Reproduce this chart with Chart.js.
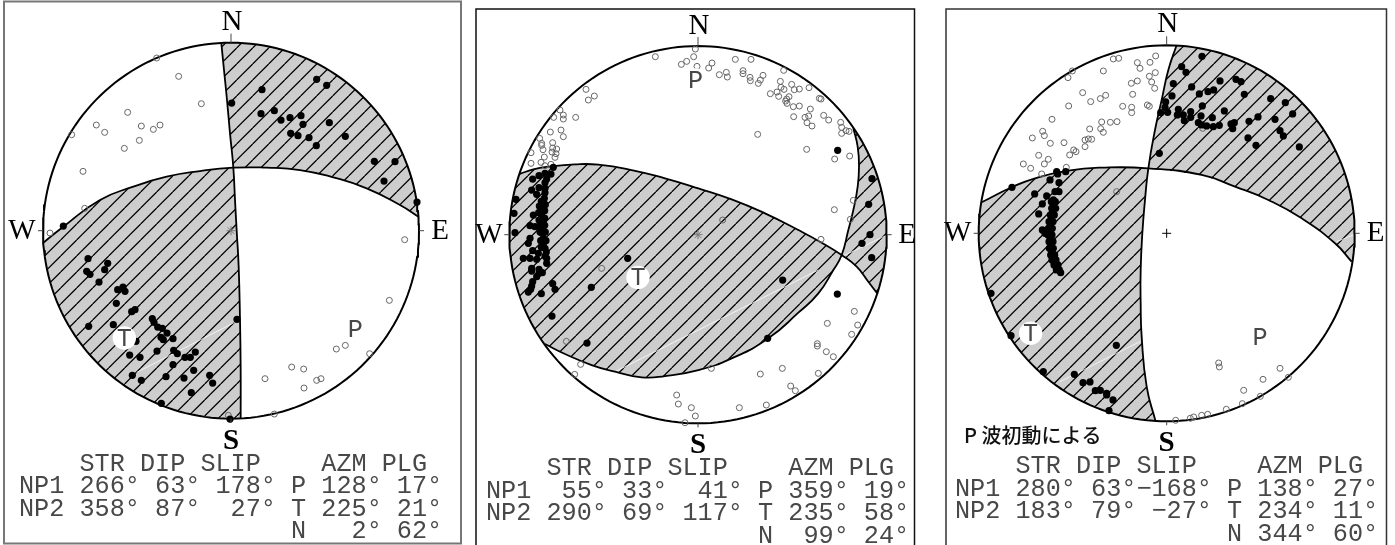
<!DOCTYPE html>
<html>
<head>
<meta charset="utf-8">
<title>Focal mechanisms</title>
<script src="https://cdn.jsdelivr.net/npm/chart.js@4"></script>
<style>
	html, body { margin: 0; padding: 0; background: #fff; }
	canvas { position: absolute; top: 0; }
</style>
</head>
<body>
<canvas id="panel1" width="465" height="545" style="left:0"></canvas>
<canvas id="panel2" width="465" height="545" style="left:465px"></canvas>
<canvas id="panel3" width="460" height="545" style="left:935px"></canvas>
<script>
"use strict";

// All values are [east, north] on the net.
// The edge of the net is about 564 units from its centre.

// Left mechanism
var p1Table = [
	"    STR DIP SLIP    AZM PLG",
	"NP1 266° 63° 178° P 128° 17°",
	"NP2 358° 87°  27° T 225° 21°",
	"                  N   2° 62°"
];
var p1PAxis = [373, -295];
var p1TAxis = [-320, -322];
var p1PlaneAWest = [[-563,-36],[-503,12],[-393,92],[-293,132],[-193,162],[-93,179],[7,189]];
var p1PlaneAEast = [[7,189],[107,189],[207,182],[307,160],[407,127],[507,77],[562,42]];
var p1PlaneBNorth = [[-29,562],[-20,472],[-12,392],[-3,292],[7,189]];
var p1PlaneBSouth = [[7,189],[12,92],[17,0],[23,-108],[27,-267],[29,-417],[29,-564]];
var p1Scratch = [[-283,-425],[17,-272]];
var p1Down = [[-223,518],[-157,463],[-89,381],[-310,355],[-404,317],[-379,295],[-269,314],[-233,304],[-213,317],[-275,271],[-320,247],[-478,288],[-444,178],[-439,67],[-543,-7],[521,-27],
	[475,-209],[343,-344],[316,-355],[416,-369],[182,-409],[218,-415],[102,-444],[270,-444],[257,-449],[219,-472],[130,-550],[-8,-554]];
var p1Up = [[257,454],[287,436],[93,423],[2,383],[90,351],[130,360],[150,332],[177,339],[210,345],[216,319],[295,324],[179,292],[201,285],[234,279],[256,255],[343,283],[430,208],[492,207],[459,149],[558,86],[-503,14],[-429,-84],[-370,-98],
	[-423,-131],[-433,-122],[-379,-117],[-396,-154],[-340,-177],[-324,-169],[-318,-182],[-344,-218],[-288,-237],[-298,-243],[-353,-282],[-427,-287],[-236,-264],[-231,-275],[-220,-289],[-206,-293],[-192,-307],[-210,-320],[-203,-327],[-174,-324],[-285,-332],[-222,-361],[-172,-359],[-161,-369],[-304,-373],[-273,-380],[-138,-380],[-122,-380],[-107,-364],[-174,-402],[-112,-419],[-296,-434],[-269,-449],[-195,-438],[-141,-442],[-64,-434],[-55,-457],[-119,-486],[-209,-518],[-3,-565],[18,-266]];

// Middle mechanism
var p2Table = [
	"    STR DIP SLIP    AZM PLG",
	"NP1  55° 33°  41° P 359° 19°",
	"NP2 290° 69° 117° T 235° 58°",
	"                  N  99° 24°"
];
var p2PAxis = [-7, 464];
var p2TAxis = [-180, -128];
var p2PlaneAWest = [[-536,182],[-494,196],[-449,204],[-369,211],[-299,210],[-199,194],[-99,169],[1,139],[101,106],[201,64],[301,14],[371,-24],[431,-61]];
var p2PlaneAEast = [[431,-61],[476,-96],[511,-141],[539,-178]];
var p2PlaneBNorth = [[466,319],[479,264],[483,204],[479,144],[466,74],[451,14],[431,-61]];
var p2PlaneBSouth = [[431,-61],[406,-106],[361,-176],[301,-234],[211,-311],[101,-371],[1,-406],[-99,-424],[-169,-428],[-249,-411],[-319,-391],[-399,-358],[-459,-328]];
var p2Scratch = [[-249,-411],[361,-106],[null,null],[431,-66],[561,-4]];
var p2Down = [[-128,534],[-8,557],[-13,534],[-34,520],[-50,511],[-3,505],[32,500],[42,515],[112,526],[159,526],[64,480],[85,487],[88,473],[135,492],[135,483],[156,472],[157,462],[181,454],[187,464],[195,478],[257,493],[247,460],[249,442],[258,436],[281,451],[289,435],[304,437],[333,441],[364,409],[369,407],[217,423],[237,428],[242,415],[266,407],[273,414],[263,401],[267,394],[286,384],[304,386],[337,377],[332,356],[321,352],[287,354],[327,336],[342,326],[377,358],[392,344],[428,337],[431,322],[444,312],[453,310],[431,304],[179,301],[326,256],[410,227],[455,236],[466,103],[409,75],[457,46],[74,44],[369,-14],[-289,-101],
	[-336,436],[-311,416],[-329,404],[-414,374],[-404,359],[-433,352],[-404,347],[-367,352],[-443,308],[-411,314],[-404,294],[-475,289],[-469,274],[-469,268],[-465,255],[-436,276],[-436,260],[-424,257],[-438,248],[-426,243],[-429,232],[-461,233],[-501,246],[-471,217],[-501,214],[-459,207],[-441,211],
	[469,-230],[388,-266],[479,-271],[461,-299],[358,-327],[358,-334],[385,-351],[406,-366],[253,-401],[187,-418],[361,-416],[278,-454],[292,-468],[205,-511],[124,-519],[40,-401],[-64,-481],[-59,-508],[-20,-519],[-8,-544],[-39,-564],[-395,-320],[-352,-389],[-370,-419]];
var p2Up = [[419,253],[522,168],[512,91],[516,0],[492,-26],[521,-69],[-211,-71],
	[-434,202],[-441,182],[-459,184],[-477,177],[-496,167],[-454,167],[-459,156],[-477,141],[-499,134],[-459,139],[-484,121],[-459,126],[-461,109],[-464,94],[-469,79],[-471,64],[-494,59],[-467,49],[-477,44],[-471,34],[-504,27],[-489,24],[-467,19],[-467,4],[-504,-11],[-464,-11],[-509,-26],[-464,-31],[-496,-48],[-459,-41],[-479,-56],[-459,-64],[-524,-71],[-504,-71],[-484,-74],[-454,-71],[-454,-86],[-499,-101],[-477,-104],[-546,106],[-552,64],[-549,6],
	[-465,102],[-467,86],[-469,72],[-469,56],[-465,36],[-466,12],[-464,-21],
	[-470,100],[-458,90],[-476,86],[-460,72],[-478,66],[-460,50],[-474,28],[-460,28],[-474,8],[-458,8],[-472,-18],[-456,-18],[-470,-38],[-455,-52],
	[-499,-109],[-467,-114],[-477,-116],[-484,-126],[-496,-141],[-499,-154],[-502,-164],[-509,-172],[-470,-177],[-436,-147],[-429,-164],[-320,-158],[-438,-244],[-333,-325],[209,-311],[254,-136],[418,-178]];

// Right mechanism
var p3Table = [
	"    STR DIP SLIP    AZM PLG",
	"NP1 280° 63°−168° P 138° 27°",
	"NP2 183° 79° −27° T 234° 11°",
	"                  N 344° 60°"
];
var p3Note = "P 波初動による";
var p3PAxis = [280, -313];
var p3TAxis = [-408, -300];
var p3PlaneAWest = [[-555,93],[-465,138],[-395,165],[-295,188],[-195,197],[-55,195]];
var p3PlaneAEast = [[-55,195],[105,175],[205,140],[305,100],[405,45],[505,-30],[555,-85]];
var p3PlaneBNorth = [[30,565],[5,490],[-15,400],[-35,310],[-55,195]];
var p3PlaneBSouth = [[-55,195],[-65,100],[-73,0],[-78,-110],[-78,-210],[-75,-310],[-60,-460],[-33,-565]];
var p3Scratch = [[-320,-445],[-80,-325],[null,null],[510,-25],[560,-5]];
var p3Down = [[-160,523],[-144,525],[-88,512],[-80,495],[-50,513],[-33,532],[-34,482],[-52,471],[-45,454],[-36,435],[-88,457],[-106,450],[-190,487],[-283,487],[-296,467],[-102,417],[-252,422],[-183,414],[-199,404],[-228,395],[-294,382],[-132,381],[-105,378],[-105,362],[-58,385],[-52,381],[-344,342],[-195,334],[-169,333],[-149,335],[-198,314],[-231,313],[-190,303],[-372,306],[-367,293],[-403,286],[-349,270],[-308,272],[-245,280],[-235,283],[-225,282],[-245,260],[-279,250],[-272,245],[-291,235],[-384,234],[-355,222],[-367,208],[-430,208],[-408,195],[-301,198],[-375,178],[-150,125],[108,315],
	[156,-389],[158,-401],[340,-405],[289,-438],[365,-432],[231,-471],[281,-489],[227,-511],[179,-528],[123,-543],[105,-546],[81,-551],[71,-555],[27,-561]];
var p3Up = [[106,531],[45,500],[58,483],[20,449],[75,439],[160,457],[208,462],[223,455],[98,418],[124,425],[141,430],[16,412],[233,417],[312,404],[356,392],[-3,394],[107,382],[-5,378],[-18,362],[3,363],[35,372],[32,355],[50,355],[53,338],[72,365],[72,348],[173,367],[103,352],[137,347],[378,358],[274,349],[325,342],[247,336],[95,332],[105,325],[120,322],[140,320],[158,324],[193,328],[203,332],[198,314],[340,308],[350,292],[244,286],[268,264],[398,259],[-22,240],
	[-330,185],[-327,178],[-303,185],[-350,160],[-323,152],[-464,138],[-396,118],[-335,125],[-323,125],[-360,112],[-373,88],[-384,58],
	[-340,100],[-342,90],[-339,80],[-343,60],[-345,50],[-347,40],[-348,30],[-350,20],[-373,10],[-348,10],[-365,0],[-350,-10],[-347,-20],[-348,-30],[-347,-40],[-345,-50],[-343,-60],[-342,-70],[-339,-78],[-335,-85],[-333,-92],[-330,-100],[-325,-108],[-318,-118],
	[-346,95],[-334,95],[-345,75],[-333,75],[-349,55],[-337,55],[-353,35],[-341,35],[-355,15],[-343,15],[-356,-5],[-344,-5],[-353,-25],[-341,-25],[-352,-45],[-340,-45],[-348,-65],[-336,-65],[-344,-80],[-332,-80],[-338,-95],[-326,-95],[-331,-110],[-322,-110],
	[-527,-180],[-467,-307],[-151,-336],[-370,-415],[-277,-423],[-251,-448],[-230,-446],[-214,-472],[-199,-471],[-180,-480],[-180,-485],[-161,-500],[-173,-532]];

var UNITS_PER_PX = 3;
var MONO_FONT = '25.2px "Liberation Mono"';
var TEXT_COLOR = '#484848';

function ToXY(list) {
	return list.map(function (p) {
		return { x: p[0], y: p[1] };
	});
}

// Points along the rim of the net, the short way round from one plane end to another
function RimBetween(from, to, radius) {
	var a = Math.atan2(from[1], from[0]);
	var b = Math.atan2(to[1], to[0]);
	var diff = b - a;
	if (diff > Math.PI) diff -= 2 * Math.PI;
	if (diff < -Math.PI) diff += 2 * Math.PI;
	var steps = Math.ceil(Math.abs(diff) / (2 * Math.PI / 180));
	var rim = [];
	for (var i = 1; i < steps; i++) {
		var t = a + diff * i / steps;
		rim.push([radius * Math.cos(t), radius * Math.sin(t)]);
	}
	return rim;
}

function RimCircle(radius) {
	var rim = [];
	for (var deg = 0; deg <= 360; deg += 2) {
		rim.push([radius * Math.cos(deg * Math.PI / 180), radius * Math.sin(deg * Math.PI / 180)]);
	}
	return rim;
}

function HatchPattern(offset) {
	var size = 16;
	var tile = document.createElement('canvas');
	tile.width = size;
	tile.height = size;
	var c = tile.getContext('2d');
	c.fillStyle = '#cdcdcd';
	c.fillRect(0, 0, size, size);
	c.strokeStyle = '#000';
	c.lineWidth = 1.3;
	c.beginPath();
	for (var k = -size; k <= size; k += size) {
		c.moveTo(k + offset - size, size);
		c.lineTo(k + offset, 0);
	}
	c.stroke();
	return document.getElementById('panel1').getContext('2d').createPattern(tile, 'repeat');
}

var netMarksPlugin = {
	id: 'netMarks',
	afterDatasetsDraw: function (chart, args, opts) {
		var ctx = chart.ctx;
		var cx = chart.scales.x.getPixelForValue(0);
		var cy = chart.scales.y.getPixelForValue(0);
		var r = opts.radius / UNITS_PER_PX;
		ctx.save();

		// frame
		ctx.strokeStyle = opts.frameColor;
		ctx.lineWidth = opts.frameWidth;
		ctx.beginPath();
		ctx.moveTo(opts.frame[0], opts.frame[3]);
		ctx.lineTo(opts.frame[0], opts.frame[1]);
		ctx.lineTo(opts.frame[2], opts.frame[1]);
		ctx.lineTo(opts.frame[2], opts.frame[3]);
		if (opts.frameClosed) ctx.closePath();
		ctx.stroke();

		// compass ticks
		ctx.strokeStyle = '#444';
		ctx.lineWidth = 1;
		ctx.beginPath();
		ctx.moveTo(cx, cy - r); ctx.lineTo(cx, cy - r - 9);
		ctx.moveTo(cx, cy + r); ctx.lineTo(cx, cy + r + 4);
		ctx.moveTo(cx - r, cy); ctx.lineTo(cx - r - 5, cy);
		ctx.moveTo(cx + r, cy); ctx.lineTo(cx + r + 5, cy);
		ctx.stroke();

		// compass letters
		ctx.fillStyle = '#000';
		ctx.textAlign = 'center';
		ctx.textBaseline = 'alphabetic';
		ctx.font = '29px "Liberation Serif"';
		ctx.fillText('N', cx + 1, cy - 201);
		ctx.fillText('W', cx - 209, cy + 8);
		ctx.fillText('E', cx + 209, cy + 8);
		ctx.font = 'bold 29px "Liberation Serif"';
		ctx.fillText('S', cx, cy + 218);

		// P and T labels
		ctx.fillStyle = TEXT_COLOR;
		ctx.font = MONO_FONT;
		ctx.textBaseline = 'middle';
		ctx.fillText('P', chart.scales.x.getPixelForValue(opts.pAxis[0]), chart.scales.y.getPixelForValue(opts.pAxis[1]) + 1);
		ctx.fillText('T', chart.scales.x.getPixelForValue(opts.tAxis[0]), chart.scales.y.getPixelForValue(opts.tAxis[1]) + 1);

		// solution table
		ctx.textAlign = 'left';
		ctx.textBaseline = 'alphabetic';
		opts.table.forEach(function (line, i) {
			ctx.fillText(line, opts.tableX, opts.tableY + i * 22.5);
		});

		if (opts.note) {
			ctx.fillStyle = '#111';
			ctx.font = '500 20px "Noto Sans CJK JP"';
			ctx.textBaseline = 'middle';
			ctx.fillText(opts.note, opts.noteX, opts.noteY);
		}
		ctx.restore();
	}
};

function DrawPanel(canvasId, panel) {
	var canvas = document.getElementById(canvasId);
	var hatch = HatchPattern(panel.hatchOffset);
	var planeA = panel.aWest.concat(panel.aEast.slice(1));
	var planeB = panel.bNorth.concat(panel.bSouth.slice(1));

	// Two shaded quadrants, each closed along the rim
	var quadrants = panel.quadrants.map(function (parts) {
		var first = parts[0][0];
		var tail = parts[1];
		var last = tail[tail.length - 1];
		return parts[0].concat(tail.slice(1), RimBetween(last, first, panel.radius));
	});

	function Dots(list, style) {
		return Object.assign({ data: ToXY(list), showLine: false }, style);
	}
	function Line(list, width, color, tension) {
		return { data: ToXY(list), showLine: true, pointRadius: 0, borderWidth: width, borderColor: color, tension: tension, fill: false, spanGaps: false };
	}
	function Area(list) {
		return { data: ToXY(list), showLine: true, pointRadius: 0, borderWidth: 1, borderColor: 'rgba(0,0,0,0)', backgroundColor: hatch, fill: 'shape', tension: 0 };
	}

	// first dataset ends up on top
	var datasets = [
		Dots([panel.pAxis, panel.tAxis], { pointRadius: 11.7, pointBorderWidth: 0, pointBackgroundColor: '#fff' }),
		Dots(panel.up, { pointRadius: 3.6, pointBorderWidth: 0, pointBackgroundColor: '#000' }),
		Dots(panel.down, { pointRadius: 3, pointBorderWidth: 1, pointBorderColor: '#666', pointBackgroundColor: 'rgba(0,0,0,0)' }),
		Dots([[0, 0]], { pointStyle: panel.centreStyle, pointRadius: 4.5, pointBorderWidth: 1, pointBorderColor: panel.centreColor }),
		Line(RimCircle(panel.radius), 2, '#000', 0),
		Line(planeA, 1.8, '#000', 0.5),
		Line(planeB, 1.8, '#000', 0.5),
		Line(panel.scratch, 1, 'rgba(255,255,255,0.75)', 0),
		Area(quadrants[0]),
		Area(quadrants[1])
	];

	new Chart(canvas, {
		type: 'scatter',
		data: { datasets: datasets },
		plugins: [netMarksPlugin],
		options: {
			responsive: false,
			animation: false,
			devicePixelRatio: 1,
			layout: { padding: 0, autoPadding: false },
			scales: {
				x: { type: 'linear', display: false, min: -panel.cx * UNITS_PER_PX, max: (canvas.width - panel.cx) * UNITS_PER_PX },
				y: { type: 'linear', display: false, min: -(canvas.height - panel.cy) * UNITS_PER_PX, max: panel.cy * UNITS_PER_PX }
			},
			plugins: {
				legend: { display: false },
				tooltip: { enabled: false },
				netMarks: {
					radius: panel.radius,
					pAxis: panel.pAxis,
					tAxis: panel.tAxis,
					table: panel.table,
					tableX: panel.tableX,
					tableY: panel.tableY,
					frame: panel.frame,
					frameColor: panel.frameColor,
					frameWidth: panel.frameWidth,
					frameClosed: panel.frameClosed,
					note: panel.note,
					noteX: panel.noteX,
					noteY: panel.noteY
				}
			}
		}
	});
}

DrawPanel('panel1', {
	cx: 231, cy: 230.7, radius: 564, hatchOffset: 12.7,
	aWest: p1PlaneAWest, aEast: p1PlaneAEast, bNorth: p1PlaneBNorth, bSouth: p1PlaneBSouth,
	quadrants: [[p1PlaneBNorth, p1PlaneAEast], [p1PlaneAWest, p1PlaneBSouth]],
	up: p1Up, down: p1Down, scratch: p1Scratch, pAxis: p1PAxis, tAxis: p1TAxis, table: p1Table,
	centreStyle: 'star', centreColor: '#777',
	tableX: 19, tableY: 470.5,
	frame: [4, 1.5, 461, 543.5], frameColor: '#777', frameWidth: 2, frameClosed: true
});

DrawPanel('panel2', {
	cx: 233, cy: 234.7, radius: 566, hatchOffset: 14.7,
	aWest: p2PlaneAWest, aEast: p2PlaneAEast, bNorth: p2PlaneBNorth, bSouth: p2PlaneBSouth,
	quadrants: [[p2PlaneAWest, p2PlaneBSouth], [p2PlaneBNorth, p2PlaneAEast]],
	up: p2Up, down: p2Down, scratch: p2Scratch, pAxis: p2PAxis, tAxis: p2TAxis, table: p2Table,
	centreStyle: 'star', centreColor: '#777',
	tableX: 21, tableY: 475,
	frame: [11, 9, 449.5, 546], frameColor: '#111', frameWidth: 1.5, frameClosed: false
});

DrawPanel('panel3', {
	cx: 231.67, cy: 233.3, radius: 564, hatchOffset: 6.7,
	aWest: p3PlaneAWest, aEast: p3PlaneAEast, bNorth: p3PlaneBNorth, bSouth: p3PlaneBSouth,
	quadrants: [[p3PlaneBNorth, p3PlaneAEast], [p3PlaneAWest, p3PlaneBSouth]],
	up: p3Up, down: p3Down, scratch: p3Scratch, pAxis: p3PAxis, tAxis: p3TAxis, table: p3Table,
	centreStyle: 'cross', centreColor: '#000',
	tableX: 20, tableY: 473.3,
	frame: [11, 9, 451.5, 546], frameColor: '#333', frameWidth: 1.5, frameClosed: false,
	note: p3Note, noteX: 29, noteY: 435
});
</script>
</body>
</html>
